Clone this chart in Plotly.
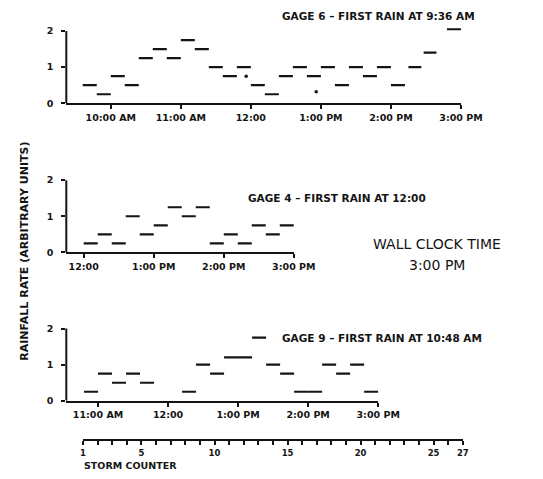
import plotly.graph_objects as go

W, H = 543, 479
OFF = 8                      # page margin of the html body
WF, HF = W - OFF, H - OFF    # figure size on the page

# ---------------- data (clock times, rainfall rate in arbitrary units) ----------------
g6_start = ["9:36", "9:48", "10:00", "10:12", "10:24", "10:36", "10:48", "11:00", "11:12",
            "11:24", "11:36", "11:48", "12:00", "12:12", "12:24", "12:36", "12:48", "13:00",
            "13:12", "13:24", "13:36", "13:48", "14:00", "14:15", "14:28", "14:48"]
g6_end = ["9:48", "10:00", "10:12", "10:24", "10:36", "10:48", "11:00", "11:12", "11:24",
          "11:36", "11:48", "12:00", "12:12", "12:24", "12:36", "12:48", "13:00", "13:12",
          "13:24", "13:36", "13:48", "14:00", "14:12", "14:26", "14:39", "15:00"]
g6_rate = [0.5, 0.25, 0.75, 0.5, 1.25, 1.5, 1.25, 1.75, 1.5, 1.0, 0.75, 1.0, 0.5,
           0.25, 0.75, 1.0, 0.75, 1.0, 0.5, 1.0, 0.75, 1.0, 0.5, 1.0, 1.4, 2.05]
g6_mark_t = ["11:56", "12:56"]
g6_mark_rate = [0.75, 0.32]

g4_start = ["12:00", "12:12", "12:24", "12:36", "12:48", "13:00", "13:12", "13:24",
            "13:36", "13:48", "14:00", "14:12", "14:24", "14:36", "14:48"]
g4_end = ["12:12", "12:24", "12:36", "12:48", "13:00", "13:12", "13:24", "13:36",
          "13:48", "14:00", "14:12", "14:24", "14:36", "14:48", "15:00"]
g4_rate = [0.25, 0.5, 0.25, 1.0, 0.5, 0.75, 1.25, 1.0, 1.25, 0.25, 0.5, 0.25, 0.75, 0.5, 0.75]

g9_start = ["10:48", "11:00", "11:12", "11:24", "11:36", "12:12", "12:24", "12:36", "12:48",
            "13:00", "13:12", "13:24", "13:36", "13:48", "14:00", "14:12", "14:24", "14:36", "14:48"]
g9_end = ["11:00", "11:12", "11:24", "11:36", "11:48", "12:24", "12:36", "12:48", "13:00",
          "13:12", "13:24", "13:36", "13:48", "14:00", "14:12", "14:24", "14:36", "14:48", "15:00"]
g9_rate = [0.25, 0.75, 0.5, 0.75, 0.5, 0.25, 1.0, 0.75, 1.2, 1.2, 1.75, 1.0, 0.75,
           0.25, 0.25, 1.0, 0.75, 1.0, 0.25]

g6_ticks = [10, 11, 12, 13, 14, 15]
g6_ticktext = ["10:00 AM", "11:00 AM", "12:00", "1:00 PM", "2:00 PM", "3:00 PM"]
g4_ticks = [12, 13, 14, 15]
g4_ticktext = ["12:00", "1:00 PM", "2:00 PM", "3:00 PM"]
g9_ticks = [11, 12, 13, 14, 15]
g9_ticktext = ["11:00 AM", "12:00", "1:00 PM", "2:00 PM", "3:00 PM"]

storm_ticks = list(range(1, 28))
storm_labels = [1, 5, 10, 15, 20, 25, 27]

y_ticks = [0, 1, 2]

# ---------------- helpers ----------------
def hrs(s):
    h, m = s.split(":")
    return int(h) + int(m) / 60.0


def seg_xy(starts, ends, rates):
    xs, ys = [], []
    for s, e, r in zip(starts, ends, rates):
        xs += [hrs(s), hrs(e), None]
        ys += [r, r, None]
    return xs, ys


def fx(px):
    return (px - OFF) / WF


def fy(py):
    return 1 - (py - OFF) / HF


INK = "#141414"
FONT = "DejaVu Sans"
PXH = 73.5      # pixels per hour (same for all panels)
PXU = 36.5      # pixels per rate unit
LEFT = 66       # pixel x of y-axes
YMAX = 2.2

panels = [
    # (t0, y0 pixel, starts, ends, rates, ticks, ticktext)
    (9.365, 104.3, g6_start, g6_end, g6_rate, g6_ticks, g6_ticktext),
    (11.751, 255.0, g4_start, g4_end, g4_rate, g4_ticks, g4_ticktext),
    (10.547, 405.0, g9_start, g9_end, g9_rate, g9_ticks, g9_ticktext),
]

fig = go.Figure()
layout = {}
shapes = []
for i, (t0, y0, st, en, ra, tv, tt) in enumerate(panels, start=1):
    xs, ys = seg_xy(st, en, ra)
    xa = "x" if i == 1 else f"x{i}"
    ya = "y" if i == 1 else f"y{i}"
    fig.add_trace(go.Scatter(x=xs, y=ys, mode="lines", xaxis=xa, yaxis=ya,
                             line=dict(color=INK, width=2.2), hoverinfo="skip"))
    t1 = 15.0
    xdom = [fx(LEFT), fx(LEFT + (t1 - t0) * PXH)]
    ydom = [fy(y0), fy(y0 - YMAX * PXU)]
    layout[f"xaxis{'' if i == 1 else i}"] = dict(
        domain=xdom, range=[t0, t1 + 0.002], anchor=ya,
        showline=True, linecolor=INK, linewidth=2, showgrid=False, zeroline=False,
        ticks="outside", ticklen=4, tickwidth=2, tickcolor=INK,
        tickvals=tv, ticktext=tt,
        tickfont=dict(family=FONT, size=9.5, color=INK, weight="bold"),
    )
    layout[f"yaxis{'' if i == 1 else i}"] = dict(
        domain=ydom, range=[0, YMAX], anchor=xa,
        showline=False, showgrid=False, zeroline=False,
        ticks="outside", ticklen=4, tickwidth=2, tickcolor=INK,
        tickvals=y_ticks, ticklabelstandoff=6,
        tickfont=dict(family=FONT, size=9.5, color=INK, weight="bold"),
    )
    shapes.append(dict(type="line", xref=f"{xa} domain", yref=ya,
                       x0=0, x1=0, y0=0, y1=2, line=dict(color=INK, width=2)))

# artifact marks on the gage 6 record
fig.add_trace(go.Scatter(x=[hrs(t) for t in g6_mark_t], y=g6_mark_rate, mode="markers",
                         xaxis="x", yaxis="y", marker=dict(color=INK, size=3.5),
                         hoverinfo="skip"))

# storm counter axis
fig.add_trace(go.Scatter(x=[None], y=[None], xaxis="x4", yaxis="y4", mode="lines"))
layout["xaxis4"] = dict(
    domain=[fx(83.6), fx(482)], range=[1, 27.001], anchor="y4",
    showline=True, linecolor=INK, linewidth=2, showgrid=False, zeroline=False,
    ticks="outside", ticklen=4, tickwidth=2, tickcolor=INK,
    tickvals=storm_ticks,
    ticktext=[str(n) if n in storm_labels else "" for n in storm_ticks],
    tickfont=dict(family=FONT, size=8.5, color=INK, weight="bold"),
)
layout["yaxis4"] = dict(domain=[fy(444), fy(440)], anchor="x4", visible=False,
                        range=[0, 1])


def ann(text, px, py, size, weight="bold", xanchor="left", textangle=0):
    return dict(text=text, x=fx(px), y=fy(py), xref="paper", yref="paper",
                xanchor=xanchor, yanchor="middle", showarrow=False, textangle=textangle,
                font=dict(family=FONT, size=size, color=INK, weight=weight))


annotations = [
    ann("GAGE 6 \u2013 FIRST RAIN AT 9:36 AM", 290, 16, 10.5),
    ann("GAGE 4 \u2013 FIRST RAIN AT 12:00", 254, 200, 10.5),
    ann("GAGE 9 \u2013 FIRST RAIN AT 10:48 AM", 290, 342, 10.5),
    ann("WALL CLOCK TIME", 455, 247, 14, weight="normal", xanchor="center"),
    ann("3:00 PM", 455, 268, 14, weight="normal", xanchor="center"),
    ann("RAINFALL RATE (ARBITRARY UNITS)", 22, 254, 11, xanchor="center", textangle=-90),
    ann("STORM COUNTER", 82, 470, 9.5),
]

fig.update_layout(
    width=WF, height=HF, margin=dict(l=0, r=0, t=0, b=0),
    paper_bgcolor="white", plot_bgcolor="white", showlegend=False,
    shapes=shapes, annotations=annotations, **layout,
)

fig.write_html("out.html")
